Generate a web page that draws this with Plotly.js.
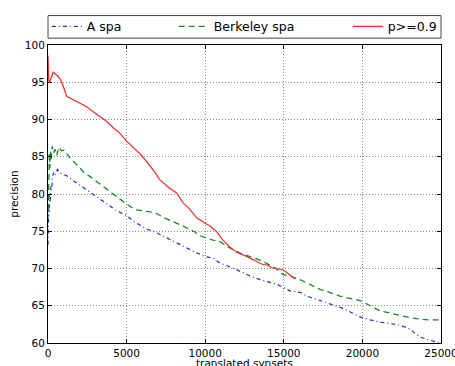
<!DOCTYPE html>
<html>
<head>
<meta charset="utf-8">
<script src="https://cdn.plot.ly/plotly-3.0.1.min.js"></script>
<style>html,body{margin:0;padding:0;background:#fff;}#chart{width:455px;height:366px;}</style>
</head>
<body>
<div id="chart"></div>
<script>
// Series names
const seriesNames = ["A spa", "Berkeley spa", "p>=0.9"];

// A spa (blue, dash-dot)
const aSpaX = [0, 15, 30, 50, 70, 100, 140, 180, 230, 300, 380, 450, 600, 800, 1000, 1230, 1600, 2080, 2500, 2990, 3600, 4260, 5000, 5530, 6280, 6810, 7400, 8080, 8700, 9350, 10000, 10500, 10940, 11600, 12210, 12850, 13490, 14000, 14550, 15000, 15390, 16030, 16460, 17300, 17900, 18570, 19200, 19850, 20500, 21120, 21800, 22390, 23000, 23660, 24100, 24500, 24900];
const aSpaY = [73.2, 76.0, 75.0, 78.0, 77.5, 80.0, 79.0, 81.0, 80.5, 82.5, 82.9, 82.5, 83.3, 82.8, 82.6, 82.4, 81.8, 81.1, 80.6, 79.8, 78.9, 77.9, 77.1, 76.2, 75.3, 74.9, 74.3, 73.6, 72.9, 72.2, 71.6, 71.4, 70.7, 70.2, 69.6, 69.0, 68.5, 68.2, 67.9, 67.4, 67.0, 66.8, 66.3, 65.7, 65.3, 64.8, 64.2, 63.5, 63.1, 62.8, 62.6, 62.4, 61.9, 60.8, 60.5, 60.2, 60.0];

// Berkeley spa (green, dashed)
const berkX = [0, 20, 40, 60, 90, 120, 160, 200, 270, 350, 450, 550, 700, 850, 1020, 1340, 1700, 2290, 2700, 3140, 3600, 4260, 4900, 5530, 6200, 6810, 7400, 8080, 8700, 9350, 9670, 10500, 10940, 11770, 12300, 12850, 13400, 13900, 14500, 14950, 15500, 16030, 16600, 17300, 17900, 18570, 19200, 19850, 20500, 21120, 21800, 22390, 23000, 23660, 24300, 25000];
const berkY = [76.5, 80.0, 84.0, 82.0, 85.5, 83.5, 85.8, 84.5, 86.4, 85.5, 86.0, 85.2, 86.3, 85.8, 85.9, 85.0, 84.2, 82.9, 82.3, 81.6, 80.8, 79.7, 78.8, 77.9, 77.7, 77.5, 76.8, 76.2, 75.6, 74.9, 74.4, 73.8, 73.6, 72.5, 72.0, 71.6, 71.2, 70.7, 70.0, 69.2, 68.9, 68.5, 67.9, 67.2, 66.8, 66.3, 66.0, 65.7, 65.0, 64.3, 64.0, 63.7, 63.4, 63.2, 63.1, 63.1];

// p>=0.9 (red, solid)
const pX = [0, 20, 50, 100, 200, 340, 450, 600, 760, 950, 1190, 1450, 1830, 2150, 2460, 2900, 3310, 3700, 4150, 4600, 5000, 5400, 5850, 6250, 6700, 7120, 7600, 8190, 8600, 9000, 9460, 9900, 10300, 10700, 11050, 11500, 12000, 12450, 12850, 13300, 13700, 13910, 14250, 14550, 14970, 15300, 15710];
const pY = [98.6, 97.0, 95.2, 95.0, 95.6, 96.4, 96.1, 95.9, 95.5, 94.6, 93.1, 92.8, 92.4, 92.1, 91.7, 91.0, 90.4, 89.8, 88.9, 88.1, 87.1, 86.3, 85.4, 84.4, 83.2, 81.9, 81.0, 80.1, 78.8, 78.0, 76.8, 76.2, 75.7, 75.0, 74.0, 73.0, 72.2, 71.8, 71.4, 70.9, 70.5, 70.5, 70.1, 70.0, 69.8, 69.3, 68.6];

// Axis ticks and titles
const xTicks = [0, 5000, 10000, 15000, 20000, 25000];
const xTickText = ["0", "5000", "10000", "15000", "20000", "25000"];
const yTicks = [60, 65, 70, 75, 80, 85, 90, 95, 100];
const xTitle = "translated synsets";
const yTitle = "precision";

const FONT = "DejaVu Sans, Verdana, sans-serif";

const traces = [
  {x: aSpaX, y: aSpaY, name: seriesNames[0], type: "scatter", mode: "lines",
   line: {color: "#1f2fbf", width: 1.2, dash: "4px,3px,1px,3px"}, legend: "legend"},
  {x: berkX, y: berkY, name: seriesNames[1], type: "scatter", mode: "lines",
   line: {color: "#15882a", width: 1.3, dash: "6px,4px"}, legend: "legend2"},
  {x: pX, y: pY, name: seriesNames[2], type: "scatter", mode: "lines",
   line: {color: "#ee2c2c", width: 1.2}, legend: "legend3"}
];

const axisCommon = {
  showline: true, linecolor: "#000", linewidth: 1, mirror: "ticks",
  ticks: "inside", ticklen: 4, tickcolor: "#000", tickwidth: 1,
  showgrid: true, gridcolor: "#8a8a8a", griddash: "1px,2px", gridwidth: 1,
  zeroline: false, automargin: false, ticklabeloverflow: "allow",
  tickfont: {family: FONT, size: 10.5, color: "#000"}
};

const legCommon = {
  orientation: "h", yanchor: "middle", xanchor: "left",
  bgcolor: "rgba(0,0,0,0)", borderwidth: 0,
  font: {family: FONT, size: 12.5, color: "#000"}
};

const layout = {
  width: 455, height: 366,
  margin: {l: 48, r: 14, t: 39, b: 23, pad: 0},
  paper_bgcolor: "#fff", plot_bgcolor: "#fff",
  font: {family: FONT, color: "#000"},
  showlegend: true,
  xaxis: Object.assign({}, axisCommon, {
    range: [0, 25000], tickvals: xTicks, ticktext: xTickText
  }),
  yaxis: Object.assign({}, axisCommon, {
    range: [60, 100], tickvals: yTicks,
    title: {text: yTitle, font: {family: FONT, size: 10.5, color: "#000"}, standoff: 4}
  }),
  annotations: [{text: xTitle, xref: "paper", yref: "paper", x: 0.5, y: -0.066,
                 xanchor: "center", yanchor: "middle", showarrow: false,
                 font: {family: FONT, size: 10.5, color: "#000"}}],
  legend: Object.assign({}, legCommon, {x: -0.003, y: 1.061}),
  legend2: Object.assign({}, legCommon, {x: 0.32, y: 1.061}),
  legend3: Object.assign({}, legCommon, {x: 0.763, y: 1.061}),
  shapes: [{type: "rect", xref: "paper", yref: "paper", x0: 0, x1: 1, y0: 1.023, y1: 1.0987,
            line: {color: "#444", width: 1}, fillcolor: "rgba(0,0,0,0)", layer: "above"}]
};

Plotly.newPlot("chart", traces, layout, {displayModeBar: false, staticPlot: true});
</script>
</body>
</html>
